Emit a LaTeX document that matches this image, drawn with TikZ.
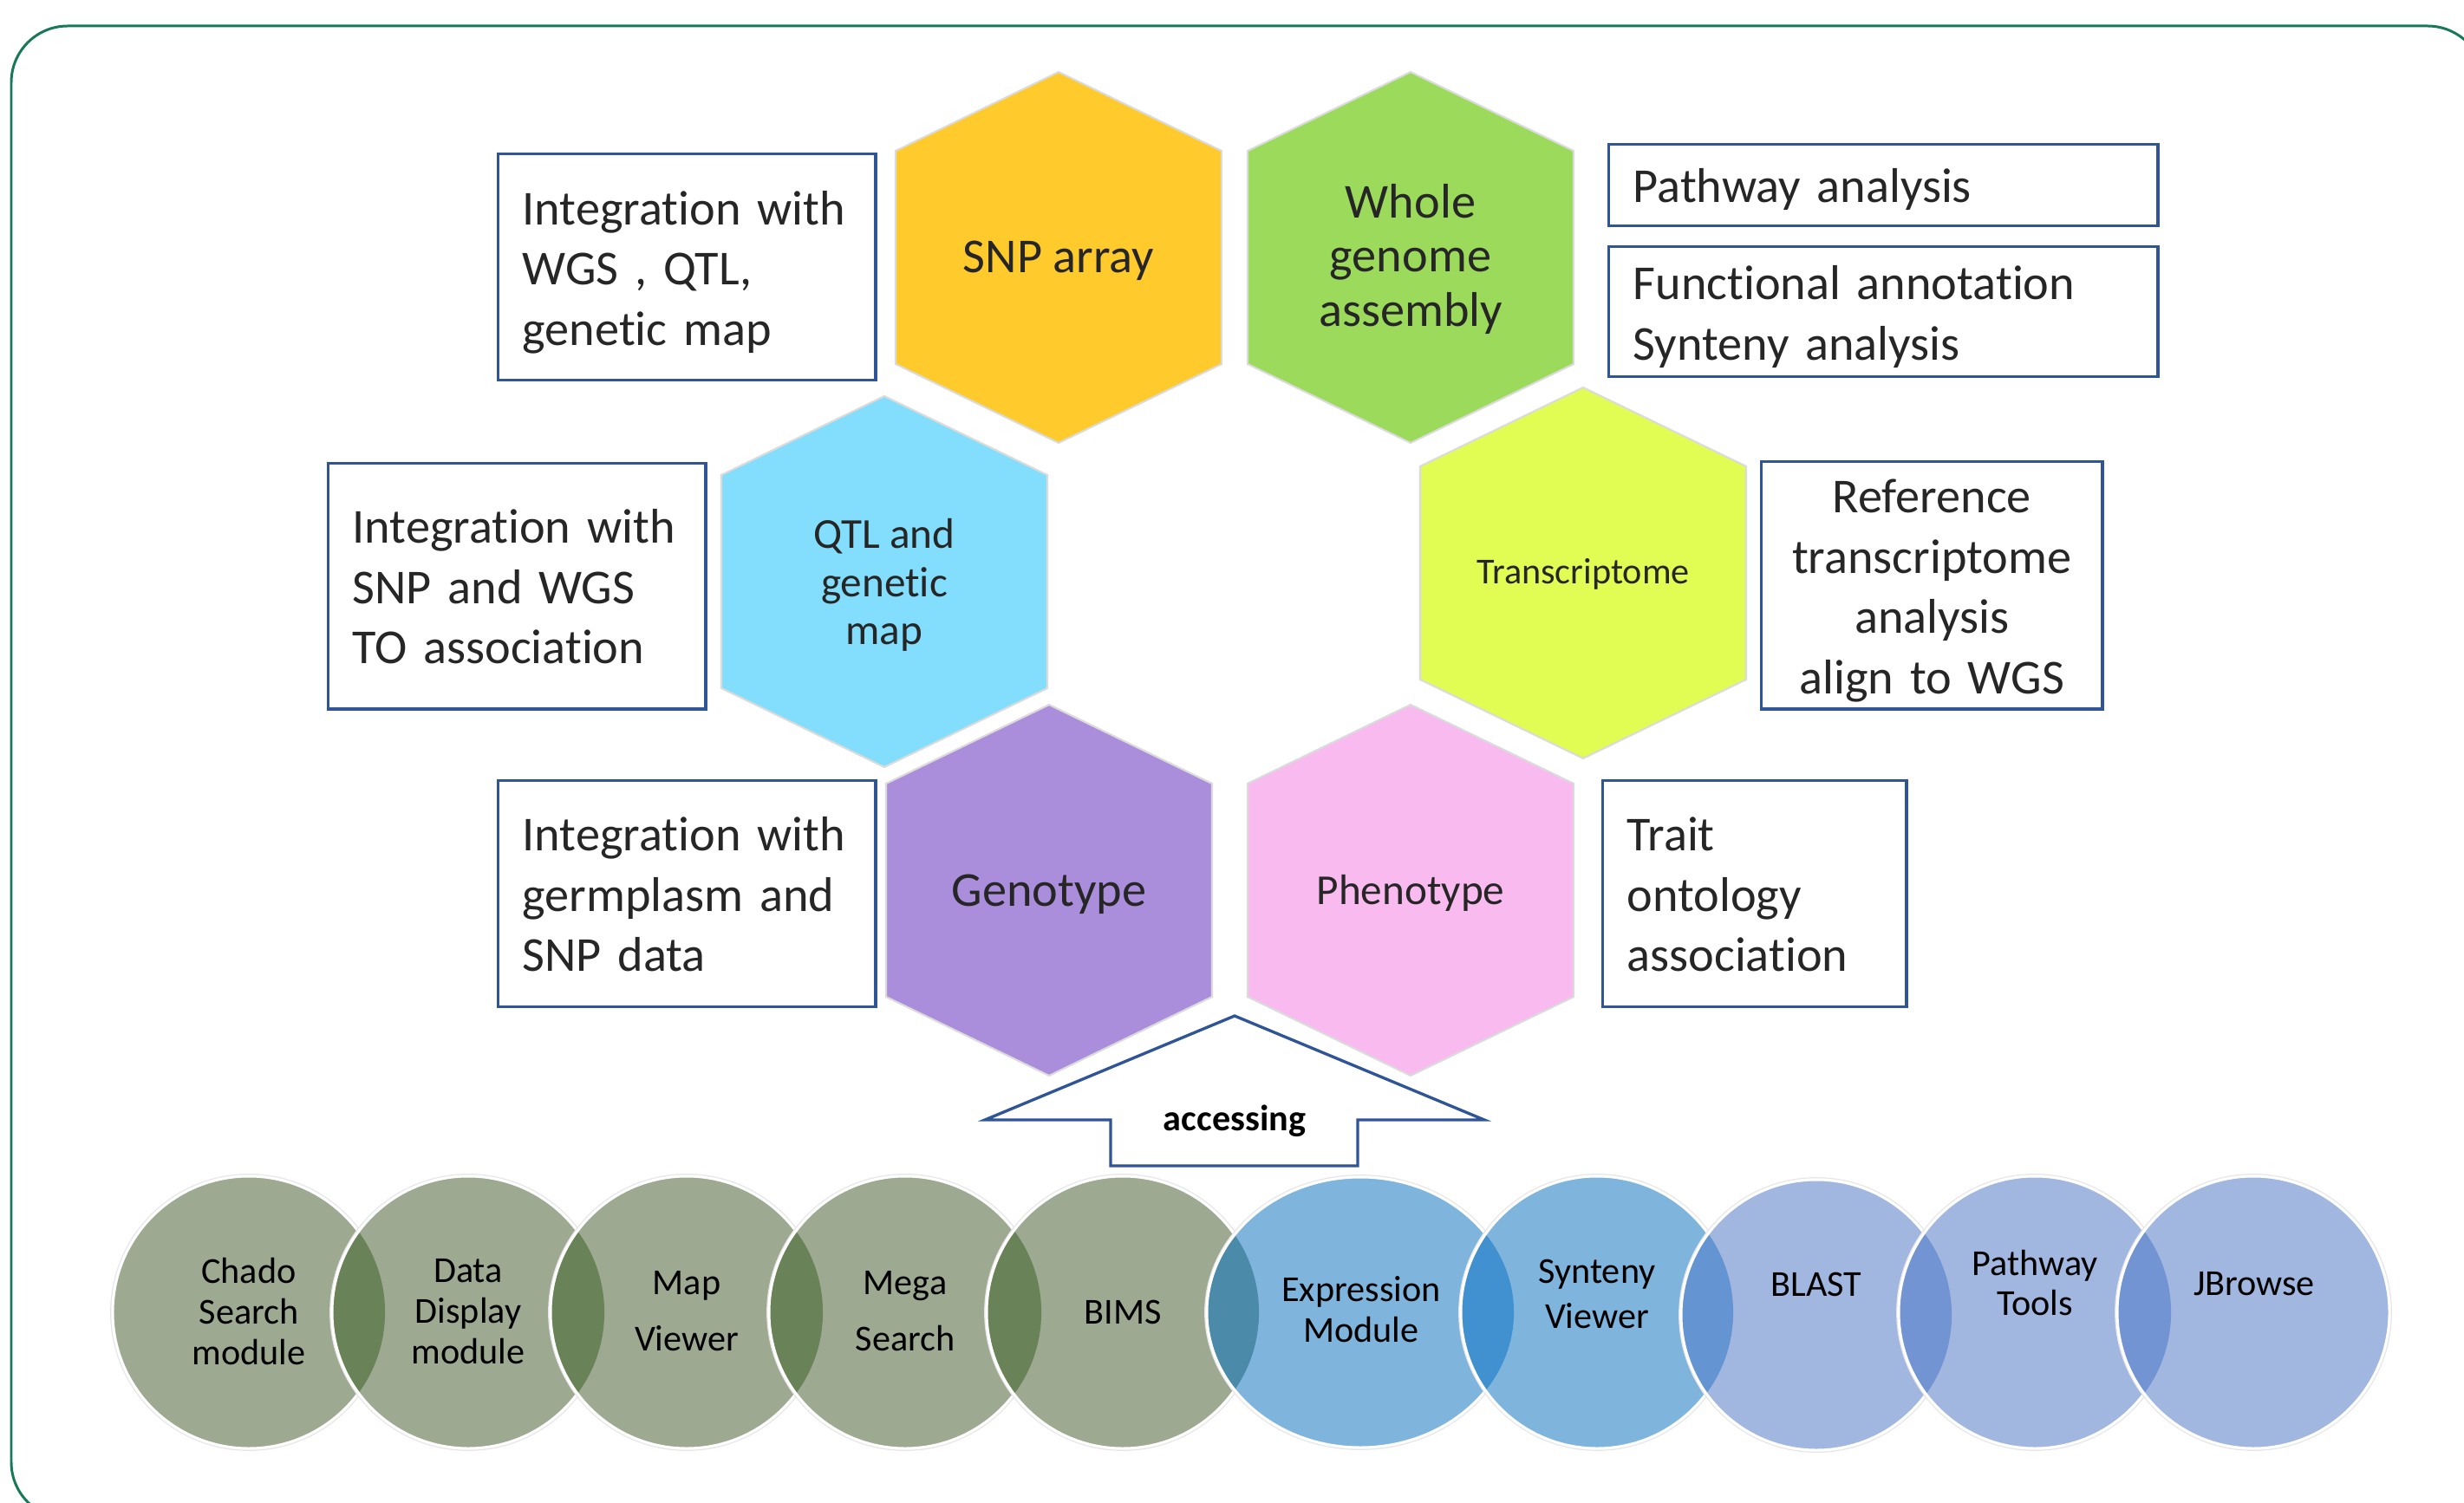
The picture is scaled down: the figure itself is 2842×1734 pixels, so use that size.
\documentclass[tikz,border=0pt]{standalone}
\usepackage{fontspec}
\setmainfont{Carlito}[Ligatures={NoCommon}]
\definecolor{frameG}{RGB}{24,120,90}
\definecolor{boxB}{RGB}{47,85,151}
\definecolor{txt}{RGB}{38,38,38}
\definecolor{hSNP}{RGB}{255,202,44}
\definecolor{hWGS}{RGB}{156,218,92}
\definecolor{hQTL}{RGB}{130,222,252}
\definecolor{hTRA}{RGB}{225,252,82}
\definecolor{hGEN}{RGB}{171,142,219}
\definecolor{hPHE}{RGB}{249,186,240}
\definecolor{cG}{RGB}{157,170,145}
\definecolor{cGG}{RGB}{105,130,88}
\definecolor{cB}{RGB}{127,181,220}
\definecolor{cGB}{RGB}{75,138,168}
\definecolor{cBB}{RGB}{65,145,208}
\definecolor{cL}{RGB}{161,183,224}
\definecolor{cBL}{RGB}{100,148,210}
\definecolor{cLL}{RGB}{115,148,210}
\tikzset{
  tbox/.style={draw=boxB, line width=0.95pt, fill=white, inner xsep=0.28cm, inner ysep=0pt,
    font=\fontsize{16}{19.8}\selectfont, text=txt, align=left, anchor=north west,
    text height=14.5pt},
  hexa/.style={fill=#1, draw=black!14, line width=0.6pt},
  hexlabel/.style={text=txt, align=center, inner sep=0pt},
  ctext/.style={align=center, inner sep=0pt, text=black},
  cedge/.style={draw=white, line width=0.9pt},
  cshade/.style={draw=black!10, line width=1.6pt},
}
\begin{document}
\begin{tikzpicture}[x=0.01cm,y=-0.01cm]
\useasboundingbox (0,0) rectangle (2842,1734);
\clip (0,0) rectangle (2842,1734);
% frame
\draw[frameG, line width=0.85pt, rounded corners=0.65cm] (13,30) rectangle (2865,1752);

% hexagons
\filldraw[hexa=hSNP] (1221,297) ++(0,-214) -- ++(188,91) -- ++(0,246) -- ++(-188,91) -- ++(-188,-91) -- ++(0,-246) -- cycle;
\node[hexlabel, font=\fontsize{16}{18}\selectfont] (snp) at (1221,301) {SNP array};
\filldraw[hexa=hWGS] (1627,297) ++(0,-214) -- ++(188,91) -- ++(0,246) -- ++(-188,91) -- ++(-188,-91) -- ++(0,-246) -- cycle;
\node[hexlabel, font=\fontsize{16}{17.9}\selectfont] (wgs) at (1627,299) {Whole\\genome\\assembly};
\filldraw[hexa=hQTL] (1020,671) ++(0,-214) -- ++(188,91) -- ++(0,246) -- ++(-188,91) -- ++(-188,-91) -- ++(0,-246) -- cycle;
\node[hexlabel, font=\fontsize{14}{15.7}\selectfont] (qtl) at (1020,675) {QTL and\\genetic\\map};
\filldraw[hexa=hTRA] (1826,661) ++(0,-214) -- ++(188,91) -- ++(0,246) -- ++(-188,91) -- ++(-188,-91) -- ++(0,-246) -- cycle;
\node[hexlabel, font=\fontsize{12}{14}\selectfont] (tra) at (1826,662) {Transcriptome};
\filldraw[hexa=hGEN] (1210,1027) ++(0,-214) -- ++(188,91) -- ++(0,246) -- ++(-188,91) -- ++(-188,-91) -- ++(0,-246) -- cycle;
\node[hexlabel, font=\fontsize{16}{18}\selectfont] (gen) at (1210,1032) {Genotype};
\filldraw[hexa=hPHE] (1627,1027) ++(0,-214) -- ++(188,91) -- ++(0,246) -- ++(-188,91) -- ++(-188,-91) -- ++(0,-246) -- cycle;
\node[hexlabel, font=\fontsize{14}{16}\selectfont] (phe) at (1627,1030) {Phenotype};

% text boxes
\node[tbox, minimum width=4.35cm, minimum height=2.61cm, text width=3.79cm] (bA) at (573,176) {Integration with\\WGS , QTL,\\genetic map};
\node[tbox, minimum width=6.33cm, minimum height=0.94cm, text width=5.77cm, text height=13.8pt] (bB) at (1854,165) {Pathway analysis};
\node[tbox, minimum width=6.33cm, minimum height=1.50cm, text width=5.77cm] (bC) at (1854,283) {Functional annotation\\Synteny analysis};
\node[tbox, minimum width=4.35cm, minimum height=2.83cm, text width=3.79cm, text height=11.5pt] (bD) at (377,533) {Integration with\\SNP and WGS\\TO association};
\node[tbox, minimum width=3.93cm, minimum height=2.85cm, text width=3.37cm, align=center] (bE) at (2030,531) {Reference\\transcriptome\\analysis\\align to WGS};
\node[tbox, minimum width=4.35cm, minimum height=2.61cm, text width=3.79cm, text height=11.5pt] (bF) at (573,899) {Integration with\\germplasm and\\SNP data};
\node[tbox, minimum width=3.50cm, minimum height=2.61cm, text width=2.94cm, text height=11.5pt] (bG) at (1847,899) {Trait\\ontology\\association};

% accessing arrow
\draw[boxB, line width=0.95pt, fill=white] (1424,1172) -- (1712,1292) -- (1566,1292) -- (1566,1345) -- (1281,1345) -- (1281,1292) -- (1136,1292) -- cycle;
\node[font=\bfseries\fontsize{12}{14}\selectfont, text=black] (acc) at (1424,1293) {accessing};

% circles
\coordinate (c1) at (287,1514);
\coordinate (c2) at (540,1514);
\coordinate (c3) at (792,1514);
\coordinate (c4) at (1044,1514);
\coordinate (c5) at (1295,1514);
\coordinate (c6) at (1569,1514);
\coordinate (c7) at (1842,1514);
\coordinate (c8) at (2095,1517);
\coordinate (c9) at (2347,1514);
\coordinate (c10) at (2599,1514);

\draw[cshade] (c1) circle[radius=1.57cm];
\fill[cG] (c1) circle[radius=1.57cm];
\draw[cedge] (c1) circle[radius=1.57cm];

\draw[cshade] (c2) circle[radius=1.57cm];
\fill[cG] (c2) circle[radius=1.57cm];
\begin{scope}\clip (c1) circle[radius=1.57cm]; \fill[cGG] (c2) circle[radius=1.57cm];\end{scope}
\draw[cedge] (c2) circle[radius=1.57cm];

\draw[cshade] (c3) circle[radius=1.57cm];
\fill[cG] (c3) circle[radius=1.57cm];
\begin{scope}\clip (c2) circle[radius=1.57cm]; \fill[cGG] (c3) circle[radius=1.57cm];\end{scope}
\draw[cedge] (c3) circle[radius=1.57cm];

\draw[cshade] (c4) circle[radius=1.57cm];
\fill[cG] (c4) circle[radius=1.57cm];
\begin{scope}\clip (c3) circle[radius=1.57cm]; \fill[cGG] (c4) circle[radius=1.57cm];\end{scope}
\draw[cedge] (c4) circle[radius=1.57cm];

\draw[cshade] (c5) circle[radius=1.57cm];
\fill[cG] (c5) circle[radius=1.57cm];
\begin{scope}\clip (c4) circle[radius=1.57cm]; \fill[cGG] (c5) circle[radius=1.57cm];\end{scope}
\draw[cedge] (c5) circle[radius=1.57cm];

\draw[cshade] (c6) ellipse[x radius=1.77cm, y radius=1.56cm];
\fill[cB] (c6) ellipse[x radius=1.77cm, y radius=1.56cm];
\begin{scope}\clip (c5) circle[radius=1.57cm]; \fill[cGB] (c6) ellipse[x radius=1.77cm, y radius=1.56cm];\end{scope}
\draw[cedge] (c6) ellipse[x radius=1.77cm, y radius=1.56cm];

\draw[cshade] (c7) circle[radius=1.57cm];
\fill[cB] (c7) circle[radius=1.57cm];
\begin{scope}\clip (c6) ellipse[x radius=1.77cm, y radius=1.56cm]; \fill[cBB] (c7) circle[radius=1.57cm];\end{scope}
\draw[cedge] (c7) circle[radius=1.57cm];

\draw[cshade] (c8) circle[radius=1.56cm];
\fill[cL] (c8) circle[radius=1.56cm];
\begin{scope}\clip (c7) circle[radius=1.57cm]; \fill[cBL] (c8) circle[radius=1.56cm];\end{scope}
\draw[cedge] (c8) circle[radius=1.56cm];

\draw[cshade] (c9) circle[radius=1.57cm];
\fill[cL] (c9) circle[radius=1.57cm];
\begin{scope}\clip (c8) circle[radius=1.56cm]; \fill[cLL] (c9) circle[radius=1.57cm];\end{scope}
\draw[cedge] (c9) circle[radius=1.57cm];

\draw[cshade] (c10) circle[radius=1.57cm];
\fill[cL] (c10) circle[radius=1.57cm];
\begin{scope}\clip (c9) circle[radius=1.57cm]; \fill[cLL] (c10) circle[radius=1.57cm];\end{scope}
\draw[cedge] (c10) circle[radius=1.57cm];

% circle labels
\node[ctext, font=\fontsize{12}{13.4}\selectfont] (t1) at (287,1513) {Chado\\Search\\module};
\node[ctext, font=\fontsize{12}{13.4}\selectfont] (t2) at (540,1513) {Data\\Display\\module};
\node[ctext, font=\fontsize{12}{18.5}\selectfont] (t3) at (792,1513) {Map\\Viewer};
\node[ctext, font=\fontsize{12}{18.5}\selectfont] (t4) at (1044,1513) {Mega\\Search};
\node[ctext, font=\fontsize{12}{14}\selectfont] (t5) at (1295,1514) {BIMS};
\node[ctext, font=\fontsize{12}{13.4}\selectfont] (t6) at (1570,1511) {Expression\\Module};
\node[ctext, font=\fontsize{12}{15}\selectfont] (t7) at (1842,1493) {Synteny\\Viewer};
\node[ctext, font=\fontsize{12}{14}\selectfont] (t8) at (2095,1482) {BLAST};
\node[ctext, font=\fontsize{12}{12.8}\selectfont] (t9) at (2347,1480) {Pathway\\Tools};
\node[ctext, font=\fontsize{12}{14}\selectfont] (t10) at (2600,1481) {JBrowse};
\end{tikzpicture}
\end{document}
